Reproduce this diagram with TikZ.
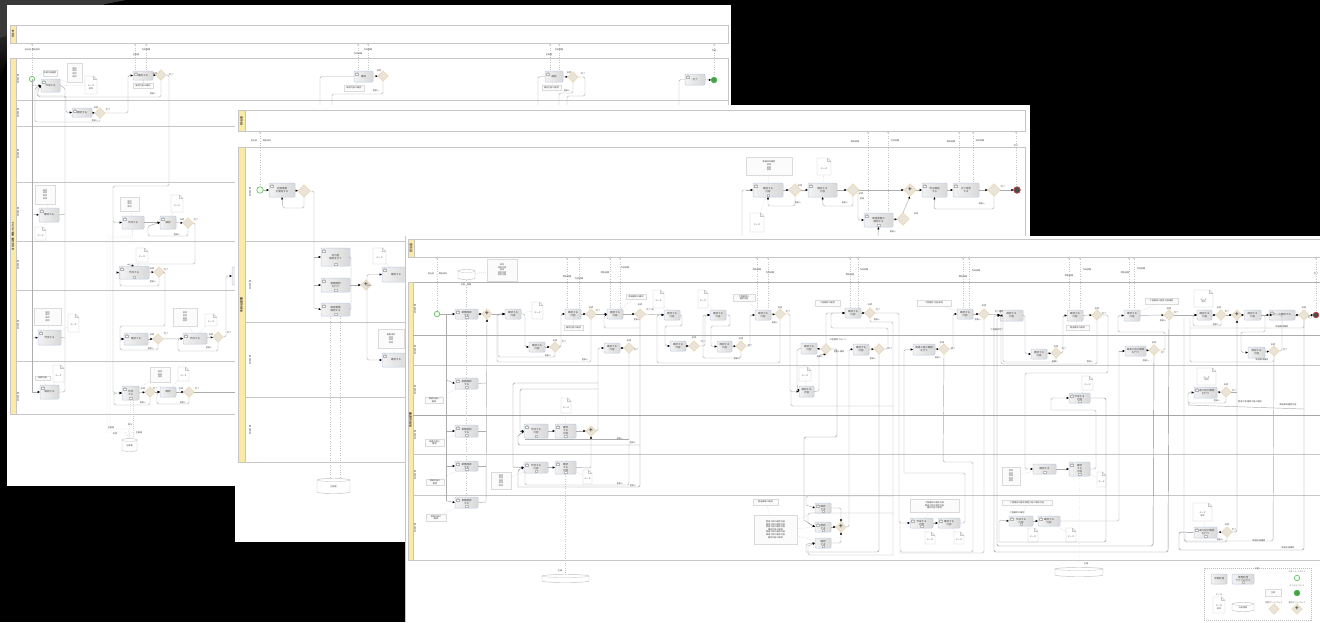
\documentclass[tikz,border=0pt]{standalone}
\usepackage{fontspec}
\setmainfont{Noto Sans CJK JP}
\usetikzlibrary{arrows.meta,shapes.geometric,shadows,positioning}
\definecolor{poolyel}{HTML}{FBE9A6}
\definecolor{edgec}{HTML}{C6C6C6}
\definecolor{flowc}{HTML}{ADADAD}
\definecolor{darkflow}{HTML}{8A8A8A}
\definecolor{taskb}{HTML}{BFCBE0}
\definecolor{gwf}{HTML}{E8E4DA}
\definecolor{gwb}{HTML}{EFD6AE}
\definecolor{txt}{HTML}{4A4A4A}
\newcommand{\tf}{\fontsize{2.5}{3}\selectfont}
\newcommand{\tfb}{\fontsize{2.1}{2.6}\selectfont}
\tikzset{
 x=1pt,y=-1pt,
 taskbox/.style={draw=taskb,line width=.5pt,rounded corners=1pt,left color=gray!10,right color=gray!30,
   inner sep=0pt,outer sep=0pt,align=center,font=\tf,text=txt},
 notebox/.style={draw=gray!28,line width=.4pt,fill=gray!3,inner sep=.5pt,outer sep=0pt,align=center,font=\tfb,text=txt},
 ghost/.style={inner sep=0pt,outer sep=0pt},
 gate/.style={diamond,draw=gwb,line width=.5pt,fill=gwf,minimum width=10.5pt,minimum height=10.5pt,inner sep=0pt,outer sep=0pt,font=\fontsize{6}{6}\selectfont\bfseries,text=black!70},
 biggate/.style={gate,minimum width=12.5pt,minimum height=12.5pt},
 startev/.style={circle,draw=green!40!gray,fill=green!8,line width=.5pt,minimum size=5.5pt,inner sep=0pt,outer sep=0pt},
 endgreen/.style={circle,draw=green!45!gray,fill=green!45!black!70,line width=.8pt,minimum size=5.5pt,inner sep=0pt,outer sep=0pt},
 endred/.style={circle,draw=red!50!gray,fill=black!70,line width=.8pt,minimum size=5.5pt,inner sep=0pt,outer sep=0pt},
 flow/.style={draw=flowc,line width=.45pt,rounded corners=1.5pt,-{Latex[length=2.3pt,width=2.3pt,black]}},
 flowd/.style={flow,draw=darkflow},
 plain/.style={draw=flowc,line width=.45pt,rounded corners=1.5pt},
 plaind/.style={plain,draw=darkflow},
 msg/.style={draw=gray!45,line width=.4pt,dotted},
 assoc/.style={draw=gray!35,line width=.3pt,dash pattern=on 1pt off 1pt},
 lab/.style={font=\tfb,text=txt,inner sep=0pt,outer sep=0pt},
 lanet/.style={font=\tfb,text=txt,rotate=90,inner sep=0pt,outer sep=0pt},
 poolt/.style={font=\tf,text=black,rotate=90,inner sep=0pt,outer sep=0pt},
 mk/.style={draw=gray!55,line width=.25pt,fill=white},
}
\newcounter{lbc}
\newcommand{\bx}[7]{\pgfmathsetmacro\bw{#5-#3}\pgfmathsetmacro\bh{#6-#4}\node[#1,minimum width=\bw pt,minimum height=\bh pt] (#2) at ({(#3+#5)/2},{(#4+#6)/2}) {#7};}
\newcommand{\tk}[6]{\bx{taskbox}{#1}{#2}{#3}{#4}{#5}{#6}}
\newcommand{\tku}[6]{\bx{taskbox}{#1}{#2}{#3}{#4}{#5}{#6}%
 \draw[draw=gray!60,line width=.25pt,fill=white] ({#2+1.2},{#3+4.2}) rectangle ({#2+4.2},{#3+2.6});
 \draw[draw=gray!60,line width=.25pt,fill=white] ({#2+2.7},{#3+1.7}) circle (.9pt);}
\newcommand{\mk}[1]{\draw[mk] ([shift={(-1.2,-3.2)}]#1.south) rectangle +(2.4,2.4);}
\newcommand{\nt}[6]{\bx{notebox}{#1}{#2}{#3}{#4}{#5}{#6}}
\newcommand{\dc}[6]{\bx{ghost}{#1}{#2}{#3}{#4}{#5}{}%
 \draw[draw=gray!45,line width=.4pt,fill=white] (#2,#3) -- ({#4-3.5},#3) -- (#4,{#3+3.5}) -- (#4,#5) -- (#2,#5) -- cycle;
 \draw[draw=gray!45,line width=.3pt] ({#4-3.5},#3) -- ({#4-3.5},{#3+3.5}) -- (#4,{#3+3.5});
 \node[lab,align=center,font=\tfb] (#1t) at ({(#2+#4)/2},{(#3+#5)/2+2}) {#6};}
\newcommand{\dbs}[6]{\bx{ghost}{#1}{#2}{#3}{#4}{#5}{}%
 \draw[draw=gray!50,line width=.45pt,fill=white] (#2,{#3+2}) .. controls ({#2+1},#3) and ({#4-1},#3) .. (#4,{#3+2}) -- (#4,{#5-2}) .. controls ({#4-1},#5) and ({#2+1},#5) .. (#2,{#5-2}) -- cycle;
 \draw[draw=gray!50,line width=.3pt] (#2,{#3+2}) .. controls ({#2+1},{#3+4}) and ({#4-1},{#3+4}) .. (#4,{#3+2});
 \node[lab] (#1t) at ({(#2+#4)/2},{(#3+#5)/2+1}) {#6};}
\newcommand{\gw}[3]{\node[gate] (#1) at (#2,#3) {};}
\newcommand{\gwbig}[3]{\node[biggate] (#1) at (#2,#3) {};}
\newcommand{\pg}[3]{\node[gate] (#1) at (#2,#3) {\raisebox{.3pt}{+}};}
\newcommand{\lb}[3]{\stepcounter{lbc}\node[lab] (lb\thelbc) at (#1,#2) {#3};}
\newcommand{\lnt}[3]{\stepcounter{lbc}\node[lanet] (lb\thelbc) at (#1,#2) {#3};}
\newcommand{\topm}[5]{% name, x, y of top, target-y, label
 \coordinate (#1u) at (#2,#3); \draw[msg] (#1u) -- (#2,#4);\draw[draw=gray!55,line width=.25pt,fill=white] (#2,{#3+1.2}) circle (.8pt);}
\begin{document}
\begin{tikzpicture}
\clip (0,0) rectangle (1320,622);
\fill[black] (0,0) rectangle (1320,622);
\shade[top color=gray!55!black,bottom color=black] (0,0) -- (125,0) -- (105,4) -- (60,25) -- (7,60) -- (0,78) -- cycle;
\fill[gray!45!black] (0,0) -- (125,0) -- (108,3) -- (60,14) -- (0,38) -- cycle;

%%%%%%%%%%%%%%%% SHEET 1
\node[fill=white,minimum width=724pt,minimum height=481pt,inner sep=0,outer sep=0] (sheetA) at (369,245.5) {};
\draw[edgec,line width=.5pt] (10,25) rectangle (728,43);
\fill[poolyel] (10,25) rectangle (16,43); \draw[edgec,line width=.4pt] (10,25) rectangle (16,43);
\node[poolt] (poA) at (13,34) {担当者};
\draw[edgec,line width=.5pt] (10,58.5) rectangle (728,414);
\fill[poolyel] (10,58.5) rectangle (16,414); \draw[edgec,line width=.4pt] (10,58.5) rectangle (16,414);
\node[poolt] (poB) at (13,236) {各担当部署 業務プロセス};
\foreach \yy in {100,126,182,241,290,361}{\draw[edgec,line width=.5pt] (16,\yy) -- (728,\yy);}
\lnt{18}{79}{担当部署}\lnt{18}{113}{担当部署}\lnt{18}{154}{担当部署}\lnt{18}{212}{担当部署}\lnt{18}{265}{担当部署}\lnt{18}{325}{担当部署}\lnt{18}{397}{担当部署}
% top messages
\topm{ma}{32}{43}{77}{}\topm{mb}{135}{43}{71}{}\topm{mc}{146}{43}{71}{}\topm{md}{358}{43}{71}{}\topm{me}{368}{43}{71}{}\topm{mf}{550}{43}{71}{}\topm{mg}{559}{43}{71}{}\topm{mh}{714}{43}{77}{}
\lb{28}{50}{担当者}\lb{36}{50}{開始条件}\lb{136}{54.5}{企画書}\lb{146}{50}{作成依頼}\lb{358}{54}{作成依頼}\lb{368}{50}{作成依頼}\lb{549}{54.5}{企画書}\lb{559}{50}{作成依頼}\lb{714}{51}{完成}
% nodes
\node[startev] (a0) at (32,79) {};
\tku{a1}{41}{79}{60}{92}{作成する}
\nt{an1}{43}{70}{57}{76}{依頼内容確認}
\nt{an2}{67}{63}{82}{82}{項目\\項目\\項目\\項目}
\dc{ad1}{85}{76}{97}{94}{データ\\項目}
\tku{a2}{72}{108}{92}{117}{確認する}\gw{g2}{100}{113}
\tku{a3}{133}{71}{153}{80}{確認する}\gw{g3}{161}{75}
\nt{an3}{133}{83}{153}{88}{確認内容の確認}
\tku{a4}{39}{208}{59}{222}{確認する}
\nt{an4}{35}{185}{55}{204}{項目\\項目\\項目\\項目}
\dc{ad4}{35}{227}{46}{240}{データ}
\tku{a5}{122}{216}{144}{229}{作成する}
\nt{an5}{120}{197}{139}{211}{項目\\項目\\項目}
\tku{a6}{160}{216}{176}{229}{確認}
\dc{ad6}{171}{195}{183}{212}{データ}
\gw{g6}{188}{223}
\tku{a7}{119}{266}{149}{279}{作成する}\gw{g7}{159}{272}
\dc{ad7}{136}{248}{148}{262}{データ}\mk{a7}
\tku{a8}{38}{330}{61}{345}{作成する}
\nt{an8}{34}{308}{61}{325}{項目\\項目\\項目\\項目}
\dc{ad8}{68}{314}{79}{332}{データ}
\tku{a9}{124}{333}{148}{345}{確認する}\gw{g9}{158}{339}
\tku{a10}{183}{333}{207}{344}{作成する}\gw{g10}{218}{337}
\nt{an10}{173}{308}{197}{326}{項目\\項目\\項目\\項目}
\dc{ad10}{205}{314}{217}{326}{データ}
\tku{a11}{40}{385}{59}{399}{確認する}
\nt{an11}{35}{376}{50}{380}{依頼内容}
\dc{ad11}{53}{365}{64}{382}{データ}
\tku{a12}{122}{386}{139}{400}{作成\\する}\gw{g12}{150}{392}\mk{a12}
\tk{a13}{160}{387}{176}{397}{確認}\gw{g13}{189}{392}
\nt{an13}{150}{367}{170}{382}{項目\\項目\\項目}
\dc{ad13}{178}{367}{189}{381}{データ}
\dbs{adb}{122}{438}{137}{452}{企画書}
\tk{a14}{232}{267}{245}{285}{}
\tku{a15}{354}{71}{373}{82}{確認}\gw{g15}{383}{76}
\nt{an15}{344}{85}{364}{91}{確認内容の確認}
\tku{a16}{545}{71}{563}{82}{確認}\gw{g16}{573}{77}
\nt{an16}{542}{85}{561}{90}{確認内容の確認}
\tku{a17}{685}{74}{705}{85}{完了}
\node[endgreen] (a18) at (714,80) {};
% connectors
\draw[flow] (a0.south) |- (a1.west);
\draw[flow] (37,86) |- (66,96) |- (a2.west);
\draw[flow] (a2) -- (g2);
\draw[flow] (g2.east) -- (128,113) |- (a3.west);
\draw[flow] (g2.south) -- (100,122) -| (35,88) -- (a1.west);
\draw[flow] (a3) -- (g3);
\draw[flow] (g3.south) -- (161,97) -| (38,90) -- (a1.west);
\draw[flow] (g3.east) -- (169,75) -- (169,186) -- (113,186) |- (a5.west);
\draw[flow] (113,222) |- (a12.west);
\draw[plain] (32,79) -- (32,392);
\draw[flow] (32,392) -- (a11.west);
\draw[flow] (32,214) -- (a4.west);\draw[plain] (a4.east) -- (65,214);
\draw[flow] (32,338) -- (a8.west);\draw[plain] (a8.east) -- (65,338);
\draw[plain] (a1.east) -- (65,88) -- (65,392) -- (a11.east);
\draw[flow] (a5) -- (a6);
\draw[flow] (a6) -- (g6);
\draw[flow] (g6.south) -- (188,236) -| (148,226) -- (a6.west);
\draw[flow] (g6.east) -- (195,223) -- (195,264) -- (126,264) -- (a7.north);
\draw[flow] (a7) -- (g7);
\draw[flow] (g7.south) -- (159,286) -- (120,286) |- (a7.west);
\draw[flow] (g7.east) -- (165,272) -- (165,326) -- (120,326) |- (a9.west);
\draw[flow] (a9) -- (g9);\draw[flow] (g9) -- (a10);\draw[flow] (a10) -- (g10);
\draw[flow] (g9.south) -- (158,350) -- (120,350) |- (a9.west);
\draw[flow] (g10.south) -- (218,351) -- (178,351) |- (a10.west);
\draw[flow] (g10.east) -- (226,337) |- (a14.west);
\draw[flow] (a12) -- (g12);\draw[flow] (g12) -- (a13);\draw[flow] (a13) -- (g13);
\draw[flow] (g12.south) -- (150,405) -- (114,405) |- (a12.west);
\draw[flow] (g13.south) -- (189,404) -- (157,404) |- (a13.west);
\draw[plain] (g13.east) -- (240,392);
\draw[flow] (a15) -- (g15);\draw[plain] (320,105) |- (a15.west);
\draw[plain] (g15.south) -- (383,94) -- (332,94) -- (332,105);
\draw[flow] (a16) -- (g16);\draw[plain] (538,105) |- (a16.west);
\draw[plain] (g16.south) -- (573,93) -- (559,93) -- (559,105);
\draw[plain] (g16.east) -- (585,77) -- (585,96) -- (567,96) -- (567,105);
\draw[plain] (679,105) |- (a17.west);
\draw[flow] (a17) -- (a18);
\draw[assoc] (a1.east) -- (ad1.west);\draw[assoc] (a1.north east) -- (an2.south west);\draw[assoc] (a0) -- (an1.west);
\draw[assoc] (a3) -- (an3);\draw[assoc] (a4) -- (an4);\draw[assoc] (a4) -- (ad4);
\draw[assoc] (a5) -- (an5);\draw[assoc] (a6) -- (ad6);\draw[assoc] (a7) -- (ad7);
\draw[assoc] (a8) -- (an8);\draw[assoc] (a8) -- (ad8);\draw[assoc] (a10) -- (an10);\draw[assoc] (a10) -- (ad10);
\draw[assoc] (a11) -- (an11);\draw[assoc] (a11) -- (ad11);\draw[assoc] (a12) -- (an13);\draw[assoc] (a13) -- (ad13);
\draw[assoc] (a15) -- (an15);\draw[assoc] (a16) -- (an16);
\draw[assoc] (a5.south) -- (132,236) -- (107,236) -- (107,432) -- (125,432) -- (adb.north);
\draw[assoc] (a5.south) -- (132,238) -- (110,238) -- (110,429) -- (128,429) -- (adb.north);
\draw[assoc] (a12.south) -- (adb.north);\draw[assoc] (133,400) -- (133,438);
\lb{111}{428}{企画書}\lb{115}{434}{承認}\lb{130}{425}{修正}\lb{139}{433}{企画書}
\lb{155}{74}{承認}\lb{171}{75}{完了}\lb{153}{94}{差戻し}\lb{96}{108}{承認}\lb{108}{110}{完了}\lb{95}{121}{差戻し}\lb{182}{220}{承認}\lb{196}{220}{完了}\lb{177}{235}{差戻し}\lb{152}{269}{承認}\lb{166}{270}{完了}\lb{153}{282}{差戻し}
\lb{152}{335}{承認}\lb{166}{334}{完了}\lb{151}{349}{差戻し}\lb{211}{335}{承認}\lb{229}{333}{完了}\lb{209}{348}{差戻し}
\lb{143}{389}{承認}\lb{155}{389}{完了}\lb{143}{403}{差戻し}\lb{181}{389}{承認}\lb{197}{389}{完了}\lb{183}{403}{差戻し}
\lb{379}{71}{承認}\lb{376}{91}{差戻し}\lb{569}{73}{承認}\lb{583}{74}{完了}\lb{567}{91}{差戻し}

%%%%%%%%%%%%%%%% SHEET 2
\node[fill=white,minimum width=795pt,minimum height=437pt,inner sep=0,outer sep=0] (sheetB) at (632.5,323.5) {};
\draw[edgec,line width=.5pt] (238,110) rectangle (1025,131);
\fill[poolyel] (238,110) rectangle (245,131); \draw[edgec,line width=.4pt] (238,110) rectangle (245,131);
\node[poolt,font=\fontsize{3}{3}\selectfont] (poC) at (241.5,120.5) {担当者};
\draw[edgec,line width=.5pt] (238,147) rectangle (1025,462);
\fill[poolyel] (238,147) rectangle (245,462); \draw[edgec,line width=.4pt] (238,147) rectangle (245,462);
\node[poolt,font=\fontsize{3}{3}\selectfont] (poD) at (241.5,305) {各担当部署};
\foreach \yy in {241.5,322.5,397}{\draw[edgec,line width=.5pt] (245,\yy) -- (1025,\yy);}
\lnt{250}{192}{担当部署}\lnt{250}{285}{担当部署}\lnt{250}{360}{担当部署}\lnt{250}{430}{担当部署}
\topm{na}{260}{131}{186}{}\topm{nb}{868}{131}{213}{}\topm{nc}{888}{131}{213}{}\topm{nd}{959}{131}{183}{}\topm{ne}{973}{131}{183}{}\topm{nf}{1016}{131}{186}{}
\lb{254}{140.5}{担当者}\lb{267}{140.5}{開始条件}\lb{855}{141.5}{関係部署}\lb{895}{141}{作成依頼}\lb{951}{142}{関係部署}\lb{980}{141}{承認依頼}\lb{1016}{145.5}{完了}
\node[startev,minimum size=6.5pt] (b0) at (260,190) {};
\tku{b1}{269}{183}{295}{197}{定期業務\\を開始する}\gwbig{bg1}{304}{191}
\tku{b2}{321}{248}{350}{266}{担当者\\確認を行う}\mk{b2}
\tku{b3}{321}{278}{350}{292}{業務確認\\を行う}\mk{b3}
\tku{b4}{321}{303}{350}{316}{関連業務\\確認する}\mk{b4}
\pg{bp}{366}{285}
\dc{bd5}{373}{248}{386}{264}{データ}
\tku{b5}{382}{267}{410}{282}{確認する}
\nt{bn6}{378}{329}{404}{348}{業務項目\\項目\\項目\\項目}
\tku{b6}{382}{353}{410}{367}{確認する}
\dbs{bdb}{317}{478}{350}{494}{企画書}
\tku{b7}{753}{183}{783}{197}{確認する\\内容}\mk{b7}
\nt{bn7}{746}{157}{792}{175}{業務項目確認\\項目\\項目\\項目}
\dc{bd7}{750}{213}{764}{232}{データ}
\gwbig{bg7}{795}{190}
\tku{b8}{808}{183}{837}{197}{確定する\\内容}
\dc{bd8}{817}{158}{831}{175}{データ}
\gwbig{bg8}{853}{190}
\node[gate,minimum width=12.5pt,minimum height=12.5pt] (bp2) at (910,190) {+};
\tku{b9}{922}{183}{947}{197}{修正確認\\する}
\tku{b10}{953}{183}{979}{197}{完了報告\\する}
\gwbig{bg10}{994}{190}
\node[endred,minimum size=6.5pt] (b11) at (1017,190) {};
\tku{b12}{864}{213}{893}{227}{関連業務の\\確認する}\mk{b12}
\gwbig{bg12}{903}{219}
\draw[flow] (b0) -- (b1);\draw[flow] (b1) -- (bg1);
\draw[flow] (bg1.south) -- (304,208) -- (283,208) -- (b1.south);
\draw[plain] (bg1.east) -- (314,191) -- (314,308);
\draw[flow] (314,257) -- (b2.west);\draw[flow] (314,285) -- (b3.west);\draw[flow] (314,308) -- (b4.west);
\draw[plain] (b2.east) -- (351,257) -- (351,310) -- (b4.east);
\draw[flow] (b3.east) -- (bp.west);
\draw[flow] (bp.east) -- (367,285) |- (b5.west);
\draw[flow] (367,285) |- (b6.west);
\draw[plain] (bp.east) -- (367,285);
\draw[msg] (330,316) -- (330,478);\draw[msg] (340,316) -- (340,478);
\draw[assoc] (b5) -- (bd5);\draw[assoc] (b6) -- (bn6);
\draw[plain] (742,236) |- (b7.west);\draw[flow] (746,190) -- (b7.west);
\draw[flow] (b7) -- (bg7);\draw[flow] (bg7.south) -- (795,206) -- (768,206) -- (b7.south);
\draw[flow] (bg7) -- (b8);\draw[flow] (b8) -- (bg8);\draw[flow] (bg8.south) -- (853,206) -- (823,206) -- (b8.south);
\draw[flow] (bg8) -- (bp2);
\draw[flow] (858,190) |- (b12.west);
\draw[flow] (b12) -- (bg12);\draw[flow] (bg12.north) -- (bp2.south);
\draw[flow] (bp2) -- (b9);\draw[flow] (b9) -- (b10);\draw[flow] (b10) -- (bg10);\draw[flow] (bg10) -- (b11);
\draw[flow] (bg10.south) -- (994,209) -- (934,209) -- (b9.south);
\draw[flow] (878,236) -- (b12.south);
\draw[assoc] (b7) -- (bn7);\draw[assoc] (b7) -- (bd7);\draw[assoc] (b8) -- (bd8);
\lb{800}{186}{承認}\lb{798}{203}{差戻し}\lb{861}{194}{承認}\lb{845}{203}{差戻し}\lb{862}{199}{差戻}\lb{916}{214}{承認}\lb{893}{232}{差戻し}\lb{1003}{187}{完了}\lb{982}{204}{差戻し}

%%%%%%%%%%%%%%%% SHEET 3
\node[fill=white,minimum width=915pt,minimum height=386pt,inner sep=0,outer sep=0] (sheetC) at (863.5,429) {};
\draw[edgec,line width=.45pt] (405.7,236) -- (405.7,622);
\draw[edgec,line width=.5pt] (408,239) rectangle (1325,257);
\fill[poolyel] (408,239) rectangle (414,257); \draw[edgec,line width=.4pt] (408,239) rectangle (414,257);
\node[poolt,font=\fontsize{3}{3}\selectfont] (poE) at (411,248) {担当者};
\draw[gray!60,line width=.45pt] (408,282) -- (1325,282);
\draw[edgec,line width=.5pt] (408,282) -- (408,560) -- (1325,560);
\fill[poolyel] (408,282) rectangle (413,560); \draw[edgec,line width=.4pt] (408,282) rectangle (413,560);
\node[poolt,font=\fontsize{3}{3}\selectfont] (poF) at (410.5,420) {各担当部署};
\draw[gray!65,line width=.45pt] (413,335) -- (1325,335);
\draw[edgec,line width=.5pt] (413,365) -- (1325,365);
\draw[gray!70,line width=.45pt] (413,415.5) -- (1325,415.5);
\draw[edgec,line width=.5pt] (413,454.5) -- (1325,454.5);
\draw[edgec,line width=.5pt] (413,495) -- (1325,495);
\lnt{415}{309}{担当部署}\lnt{415}{350}{担当部署}\lnt{415}{390}{担当部署}\lnt{415}{435}{担当部署}\lnt{415}{475}{担当部署}\lnt{415}{528}{担当部署}
\foreach \nm/\xa/\ya in {c/437/311,d/567/309,e/579/309,f/610/309,g/620/309,h/757/310,i/768/310,j/850/308,k/858/308,l/963/309,m/969/309,n/1069/310,o/1080/310,p/1129/310,q/1134/310,r/1316/312}{\topm{\nm m}{\xa}{257}{\ya}{}}
\lb{431}{274}{担当者}\lb{443}{274}{開始条件}\lb{567}{277}{関係部署}\lb{579}{279}{作成依頼}\lb{605}{273}{関係部署}\lb{625}{268}{作成依頼}\lb{757}{270}{関係部署}\lb{770}{273}{作成依頼}\lb{850}{275}{関係部署}\lb{864}{270}{作成依頼}\lb{963}{277}{関係部署}\lb{976}{271}{作成依頼}\lb{1069}{276}{関係部署}\lb{1087}{270}{作成依頼}\lb{1125}{273}{関係部署}\lb{1141}{269}{作成依頼}\lb{1316}{274}{完了}
\node[startev] (c0) at (437,314) {};
\tku{c1}{455}{309}{478}{319}{業務確認\\する}\mk{c1}
\pg{cp1}{487}{314}
\tk{c2}{505}{309}{521}{319}{確認する\\内容}
\dc{cd2}{532}{302}{543}{319}{データ}
\tk{c3}{529}{342}{545}{352}{確認する\\内容}\gw{cg3}{555}{347}
\tk{c4}{565}{309}{581}{319}{確認する\\内容}\gw{cg4}{591}{314}
\nt{cn4}{564}{325}{583}{330}{確認内容の確認}
\dbs{cdb}{458}{269}{475}{280}{}
\nt{cnb}{487}{259}{517}{281}{項目\\項目内容\\項目\\項目内容\\項目内容}
\lb{466}{285}{企画・業務}
\tk{c5}{607}{309}{623}{319}{確認する\\内容}\gw{cg5}{640}{314}
\nt{cn5}{626}{294}{646}{299}{関連確認の確認}
\tk{c6}{604}{343}{620}{353}{確認する\\内容}\gw{cg6}{629}{348}
\tk{c7}{664}{310}{680}{320}{確認する\\内容}
\dc{cd7}{653}{290}{664}{308}{データ}
\tk{c8}{670}{341}{686}{351}{確認する\\内容}\gw{cg8}{694}{346}
\dc{cd8}{698}{290}{708}{308}{データ}
\tk{c9}{710}{310}{726}{320}{確認する\\内容}
\tk{c10}{717}{341}{732}{352}{確認する\\内容}\gw{cg10}{741}{346}
\tk{c11}{755}{310}{771}{320}{確認する\\内容}\gw{cg11}{780}{314}
\nt{cn11}{733}{294}{755}{301}{工程確認の\\確認内容}
\tk{c12}{801}{343}{817}{354}{確認する\\内容}\gw{cg12}{826}{349}
\dc{cd13}{799}{367}{811}{381}{データ}
\tk{c13}{799}{386}{814}{397}{確認する\\内容}
\tk{c14}{845}{308}{861}{318}{確認する\\内容}\gw{cg14}{870}{313}
\nt{cn14}{815}{300}{840}{306}{工程確認の確認}
\tk{c15}{853}{344}{869}{355}{確認する\\内容}\gw{cg15}{879}{349}
\tk{c16}{913}{344}{935}{355}{関連工程の確認\\を行う}\gw{cg16}{944}{349}
\tk{c17}{957}{309}{973}{319}{確認する\\内容}\gw{cg17}{984}{314}
\nt{cn17}{917}{300}{951}{306}{工程確認 内容 確認}
\tk{c18}{1000}{310}{1023}{321}{確認する\\内容}
\tk{c19}{1031}{349}{1047}{359}{確認する\\内容}\gw{cg19}{1056}{353}
\tk{c20}{1067}{310}{1083}{321}{確認する\\内容}\gw{cg20}{1097}{315}
\nt{cn20}{1066}{325}{1089}{330}{関連事項の確認}
\tk{c21}{1124}{310}{1140}{321}{確認する\\内容}\gw{cg21}{1169}{315}
\nt{cn21}{1145}{298}{1178}{304}{工程確認の調整 内容確認}
\tk{c22}{1125}{346}{1146}{356}{関連工程の確認\\を行う}\gw{cg22}{1154}{350}
\tk{c23}{1197}{310}{1212}{320}{確認する\\内容}
\dc{cd23}{1194}{290}{1213}{307}{データ\\項目}
\gw{cg23}{1221}{315}\pg{cp23}{1237}{315}
\tk{c24}{1244}{310}{1261}{320}{確認する\\内容}
\tku{c25}{1269}{310}{1295}{320}{データ確認する}\gw{cg25}{1304}{315}
\node[endred] (c26) at (1316,315) {};
\tk{c27}{1248}{347}{1265}{358}{確認する\\内容}\gw{cg27}{1274}{351}
\tku{c28}{1194}{387}{1217}{398}{関連工程の確認\\を行う}
\dc{cd28}{1197}{368}{1216}{385}{データ\\項目}
\gw{cg28}{1226}{392}
\dc{cd29}{1082}{376}{1093}{390}{データ}
\tku{c29}{1069}{393}{1090}{403}{作成する\\内容}\mk{c29}
\tku{c31}{455}{378}{478}{389}{業務確認\\する}\mk{c31}
\nt{cn31}{425}{397}{443}{403}{関連内容の\\確認}
\tku{c32}{455}{425}{478}{437}{業務確認\\する}\mk{c32}
\nt{cn32}{425}{439}{444}{446}{関連内容の\\確認}
\tku{c33}{455}{461}{478}{471}{業務確認\\する}\mk{c33}
\nt{cn33}{426}{479}{444}{485}{関連内容の\\確認}
\tku{c34}{455}{497}{478}{508}{業務確認\\する}\mk{c34}
\nt{cn34}{426}{514}{446}{521}{関連内容の\\確認}
\tku{c35}{524}{424}{548}{438}{作成する\\内容}\mk{c35}
\tku{c36}{555}{424}{576}{438}{確認\\する\\内容}\mk{c36}
\pg{cp36}{591}{431}
\dc{cd36}{561}{398}{571}{413}{データ}
\tku{c37}{524}{462}{548}{473}{作成する\\内容}\mk{c37}
\tku{c38}{555}{461}{576}{474}{確認\\する\\内容}\mk{c38}
\dc{cd38}{583}{470}{592}{484}{データ}
\nt{cn37}{491}{472}{511}{489}{項目\\項目\\項目\\項目\\項目}
\dbs{cdb2}{542}{574}{589}{583}{}
\lb{560}{571}{企画}
\nt{cn40}{753}{499}{778}{505}{関連業務の確認}
\nt{cn41}{754}{515}{797}{544}{関連工程の確認内容\\関連工程の確認内容\\関連工程の確認内容\\確認内容の確認\\関連工程の確認内容\\関連工程の確認内容\\確認内容の確認}
\tku{c42}{815}{503}{831}{513}{確認\\する}\mk{c42}
\tku{c43}{815}{522}{831}{532}{確認\\する}\mk{c43}
\tk{c44}{815}{538}{831}{548}{確認\\する}\mk{c44}
\pg{cp44}{841}{527}
\nt{cn45}{910}{499}{959}{512}{工程確認の確認内容\\関連工程の確認内容\\確認内容の確認}
\tku{c46}{910}{518}{933}{528}{作成する\\内容}\mk{c46}
\tku{c47}{938}{518}{960}{528}{確認する\\内容}
\dc{cd46}{925}{532}{935}{544}{データ}
\dc{cd47}{954}{532}{964}{544}{データ}
\tk{c48}{1033}{464}{1056}{474}{確認する}\mk{c48}
\tku{c49}{1069}{462}{1090}{476}{確認\\する\\内容}\mk{c49}
\dc{cd49}{1097}{472}{1106}{487}{データ}
\nt{cn49}{1002}{467}{1020}{485}{項目\\項目\\項目\\項目\\項目}
\nt{cn50}{1002}{500}{1052}{505}{工程確認の確認 調整内容の確認内容}
\lb{1017}{513}{工程確認の確認}
\tku{c51}{1009}{516}{1033}{526}{作成する\\内容}\mk{c51}
\tku{c52}{1038}{516}{1060}{526}{確認する\\内容}
\dc{cd51}{1028}{528}{1038}{542}{データ}
\dc{cd52}{1066}{528}{1076}{542}{データ}
\dbs{cdb3}{1055}{567}{1103}{577}{}
\lb{1086}{564}{企画}
\tku{c53}{1194}{527}{1217}{538}{関連工程の確認\\を行う}\mk{c53}
\gw{cg53}{1227}{532}
\dc{cd53}{1193}{503}{1212}{521}{データ\\項目}
% Legend
\node[draw=gray!50,line width=.45pt,dash pattern=on 1pt off 1pt,minimum width=107pt,minimum height=52pt,inner sep=0,fill=white] (leg) at (1257.5,594) {};
\lb{1257}{569}{凡例}
\tk{lg1}{1211}{574}{1227}{584}{手動処理}
\tk{lg2}{1232}{574}{1254}{584}{業務処理\\サブプロセス}\mk{lg2}
\lb{1297}{572}{スタートイベント}
\node[startev] (lg3) at (1297,578) {};
\lb{1297}{586}{エンドイベント}
\node[endgreen] (lg4) at (1297,593) {};
\nt{lg5}{1265}{589}{1281}{596}{注釈}
\lb{1219}{595}{データ}
\dc{lg6}{1213}{597}{1225}{613}{データ\\項目}
\dbs{lg7}{1232}{602}{1254}{612}{外部情報}
\lb{1274}{603}{排他ゲートウェイ}
\gw{lg8}{1274}{609}
\lb{1297}{603}{並列ゲートウェイ}
\pg{lg9}{1297}{609}
% connectors, first row
\draw[flow] (c0) -- (c1);\draw[flow] (c1) -- (cp1);\draw[flow] (cp1) -- (c2);
\draw[plain] (446.7,314) -- (446.7,501);
\draw[flow] (446.7,380) -- (c31.west);\draw[flow] (446.7,431) -- (c32.west);\draw[flow] (446.7,466) -- (c33.west);\draw[flow] (446.7,501) -- (c34.west);
\draw[plain] (c31.east) -- (486,383);\draw[plain] (c32.east) -- (486,431);\draw[plain] (c33.east) -- (486,466);\draw[plain] (c34.east) -- (486,502);
\draw[flow] (486,502) -- (cp1.south);
\draw[msg] (cdb.south) -- (c1.north);\draw[msg] (c1.south) -- (c31.north);\draw[msg] (c31.south) -- (c32.north);\draw[msg] (c32.south) -- (c33.north);\draw[msg] (c33.south) -- (c34.north);
\draw[flow] (c2.east) -- (525,314) |- (c3.west);
\draw[flow] (c3) -- (cg3);
\draw[flow] (cg3.east) -- (561,347) |- (c4.west);
\draw[flow] (cg3.south) -- (555,357) -- (498,357) |- (c2.west);
\draw[flow] (c4) -- (cg4);
\draw[flow] (cg4.south) -- (591,362) -- (497,362) |- (c2.west);
\draw[flow] (cg4.east) -- (c5.west);
\draw[flow] (c5) -- (cg5);
\draw[plaind] (cg5.south) -- (640,487) -- (518,487);
\draw[flowd] (518,487) -- (518,470) -- (c37.west);
\draw[plaind] (640,445) -- (518,445) -- (518,436);
\draw[flowd] (518,436) -- (c35.west);
\draw[flow] (640,328) -- (604,328) -- (604,316) -- (c5.west);
\draw[flow] (cg5) -- (c7);
\draw[flow] (cp36.east) -- (598,431) -- (598,348) -- (c6.west);
\draw[plaind] (598,383) -- (513,383) -- (513,467);
\draw[flowd] (513,467) -- (c37.west);
\draw[plaind] (598,389) -- (520,389) -- (520,431);
\draw[flowd] (520,431) -- (c35.west);
\draw[flow] (c35) -- (c36);\draw[flow] (c36) -- (cp36);
\draw[flow] (c37) -- (c38);\draw[flow] (c38.east) -- (591,468) -- (cp36.south);
\draw[flow] (c6) -- (cg6);
\draw[plain] (cg6.south) -- (629,485) -- (525,485) -- (525,470);
\draw[plain] (629,439) -- (525,439);
\lb{620}{439}{差戻し}\lb{620}{484}{差戻し}\lb{633}{443}{差戻し}\lb{633}{486}{差戻し}
\draw[flow] (c7.east) -- (682,315) -- (682,326) -- (665,326) |- (c8.west);
\draw[flow] (c8) -- (cg8);
\draw[flow] (cg8.east) -- (705,346) |- (c9.west);
\draw[flow] (c9.east) -- (730,315) -- (730,326) -- (711,326) |- (c10.west);
\draw[flow] (c10) -- (cg10);
\draw[flow] (cg10.east) -- (750,346) |- (c11.west);
\draw[flow] (cg10.south) -- (741,358) -- (703,358) |- (c9.west);
\draw[flow] (c11) -- (cg11);
\draw[flow] (cg11.south) -- (780,363) -- (657,363) |- (c7.west);
\draw[flow] (cg11.east) -- (790,314) |- (c13.west);
\draw[flow] (c13.east) -- (819,391) -- (819,355) -- (cg12.south);
\draw[flow] (cg12) -- (c12);
\draw[flow] (c12.west) -- (797,349) -- (797,386) -- (c13.west);
\draw[flow] (cg12.north) -- (826,313) -- (c14.west);
\draw[flow] (c14) -- (cg14);
\draw[plain] (cg14.south) -- (870,322) -- (893,322) -- (893,555);
\draw[flow] (cg14.east) -- (899,313) -- (899,523) -- (c46.west);
\draw[flow] (cg15.east) -- (888,349) -- (888,328) -- (831,328) |- (c14.west);
\draw[flow] (c15) -- (cg15);
\draw[plaind] (cg15.south) -- (879,552) -- (806,552);
\draw[flow] (806,552) -- (806,544) -- (c44.west);
\draw[plain] (791,391) -- (791,406) -- (893,406);
\draw[plaind] (cg12.east) -- (837,349) -- (837,437) -- (804,437) -- (804,520);
\draw[flow] (804,520) -- (c43.west);
\draw[plain] (893,496) -- (806,496) -- (806,505);
\draw[flow] (806,505) -- (c42.west);
\draw[plain] (893,513) -- (808,513) -- (808,523);
\draw[flow] (808,523) -- (c43.west);
\draw[plain] (893,555) -- (808,555) -- (808,546);
\draw[flow] (808,546) -- (c44.west);
\draw[flow] (c42.east) -- (841,508) -- (cp44.north);
\draw[flow] (c43) -- (cp44);
\draw[flow] (c44.east) -- (841,543) -- (cp44.south);
\draw[flow] (cp44.east) -- (849,527) -- (849,349) -- (c15.west);
\draw[assoc] (cn40) -- (cn41);\draw[assoc] (cn41) -- (c42);\draw[assoc] (cn41) -- (c43);\draw[assoc] (cn41) -- (c44);
\draw[flow] (c46) -- (c47);
\draw[plain] (c47.east) -- (965,523) -- (965,473) -- (904,473);
\draw[flow] (904,473) |- (c16.west);
\draw[flow] (c16) -- (cg16);
\draw[flow] (cg16.east) -- (953,349) |- (c17.west);
\draw[plain] (cg16.south) -- (943,462) -- (973,462) -- (973,552) -- (900,552) -- (900,523);
\draw[flow] (c17) -- (cg17);
\draw[plain] (cg17.south) -- (984,553) -- (899,553);
\draw[flow] (cg17) -- (c18);
\draw[flow] (c18.east) -- (1025,315) |- (c19.west);
\draw[flow] (c19) -- (cg19);
\draw[flow] (cg19.east) -- (1063,353) |- (c20.west);
\draw[flow] (c20) -- (cg20);
\draw[flow] (cg20.east) -- (1108,315) -- (1108,373) -- (1025,373) |- (c48.west);
\draw[flow] (cg20.south) -- (1097,364) -- (1001,364) |- (c18.west);
\draw[flow] (cg19.south) -- (1056,362) -- (1003,362) |- (c18.west);
\draw[flow] (c48) -- (c49);
\draw[plain] (c49.east) -- (1096,469) -- (1096,410) -- (1051,410);
\draw[flow] (1051,410) -- (1051,398) -- (c29.west);
\draw[plaind] (c29.east) -- (1106,398) -- (1106,542) -- (999,542);
\draw[flow] (999,542) -- (999,520) -- (c51.west);
\draw[flow] (c51) -- (c52);
\draw[plain] (c52.east) -- (1119,521) -- (1119,351);
\draw[flow] (1119,351) -- (c22.west);
\draw[flow] (c22) -- (cg22);
\draw[flow] (cg22.east) -- (1165,350) -- (1165,332) -- (1118,332) |- (c21.west);
\draw[plaind] (cg22.south) -- (1153,546) -- (997,546) -- (997,318);
\draw[plaind] (cg21.south) -- (1168,552) -- (994,552) -- (994,316);
\draw[flow] (994,316) -- (c18.west);
\draw[flow] (c21) -- (cg21);
\draw[flow] (cg21) -- (c23);
\draw[flow] (c23) -- (cg23);\draw[flow] (cg23) -- (cp23);\draw[flow] (cp23) -- (c24);\draw[flow] (c24) -- (c25);\draw[flow] (c25) -- (cg25);\draw[flow] (cg25) -- (c26);
\draw[flow] (cg23.south) -- (1221,326) -- (1193,326) |- (c23.west);
\draw[flow] (c24.east) -- (1265,315) -- (1265,332) -- (1241,332) |- (c27.west);
\draw[flow] (c27) -- (cg27);
\draw[flow] (cg27.east) -- (1282,351) |- (c25.west);
\draw[plain] (cg27.south) -- (1273,541) -- (1184,541) -- (1184,318);
\draw[plaind] (cg25.south) -- (1304,550) -- (1179,550) -- (1179,532) -- (c53.west);
\draw[plain] (cg27.south) -- (1274,362) -- (1190,362) -- (1190,318);
\draw[plain] (cg25.south) -- (1304,328) -- (1190,328);
\draw[flowd] (cg53.east) -- (1237,532) -- (cp23.south);
\draw[flow] (c53) -- (cg53);
\draw[flow] (c28) -- (cg28);\draw[plain] (cg28.east) -- (1237,392);
\draw[flow] (cg28.south) -- (1226,403) -- (1188,403) |- (c28.west);
\draw[plain] (1188,403) -- (1188,405) -- (1304,409);
\draw[plain] (cg53.south) -- (1227,542) -- (1185,542) -- (1185,534);
% associations
\draw[assoc] (c2) -- (cd2);\draw[assoc] (c4) -- (cn4);\draw[assoc] (c5) -- (cn5);\draw[assoc] (c7) -- (cd7);\draw[assoc] (c9) -- (cd8);\draw[assoc] (c11) -- (cn11);\draw[assoc] (c13) -- (cd13);\draw[assoc] (c14) -- (cn14);\draw[assoc] (c17) -- (cn17);\draw[assoc] (c20) -- (cn20);\draw[assoc] (c21) -- (cn21);\draw[assoc] (c23) -- (cd23);\draw[assoc] (c28) -- (cd28);\draw[assoc] (c29) -- (cd29);
\draw[assoc] (c31) -- (cn31);\draw[assoc] (c32) -- (cn32);\draw[assoc] (c33) -- (cn33);\draw[assoc] (c34) -- (cn34);\draw[assoc] (c36) -- (cd36);\draw[assoc] (c38) -- (cd38);\draw[assoc] (c37) -- (cn37);
\draw[assoc] (c46) -- (cn45);\draw[assoc] (c46) -- (cd46);\draw[assoc] (c47) -- (cd47);\draw[assoc] (c48) -- (cn49);\draw[assoc] (c49) -- (cd49);\draw[assoc] (c51) -- (cn50);\draw[assoc] (c51) -- (cd51);\draw[assoc] (c52) -- (cd52);\draw[assoc] (c53) -- (cd53);
\draw[assoc] (cdb) -- (cnb);
\draw[msg] (c38.south) -- (cdb2.north);\draw[msg] (c49.south) -- (cdb3.north);
% labels
\lb{555}{341}{承認}\lb{564}{342}{完了}\lb{548}{356}{差戻し}\lb{591}{308}{承認}\lb{598}{311}{完了}\lb{585}{360}{差戻し}
\lb{640}{305}{承認}\lb{650}{310}{完 了 後}\lb{637}{320}{差戻し}\lb{629}{341}{承認}\lb{636}{350}{完了}\lb{694}{338}{承認}\lb{703}{342}{完了}\lb{741}{339}{承認}\lb{750}{346}{完了}\lb{737}{359}{差戻し}
\lb{780}{308}{承認}\lb{788}{312}{完了}\lb{775}{323}{差戻し}\lb{870}{305}{承認}\lb{878}{310}{完了}\lb{877}{320}{差戻し}
\lb{838}{340}{工程確認すること}\lb{839}{352}{差戻し確認}\lb{820}{357}{差戻し}\lb{890}{349}{完了}\lb{873}{359}{差戻し}\lb{942}{343}{承認}\lb{953}{349}{完了}\lb{938}{358}{差戻し}
\lb{984}{306}{承認}\lb{978}{320}{差戻し}\lb{999}{312}{完了確認}\lb{997}{330}{工程確認完了}\lb{1097}{309}{承認}\lb{1104}{314}{完了}\lb{1056}{347}{承認}\lb{1064}{349}{完了}\lb{1055}{362}{差戻し}\lb{1090}{362}{差戻し}
\lb{1154}{343}{承認}\lb{1163}{353}{完了}\lb{1146}{361}{差戻し}\lb{1169}{309}{承認}\lb{1176}{313}{完了}\lb{1163}{321}{差戻し}
\lb{1219}{308}{承認}\lb{1227}{312}{完了}\lb{1216}{325}{差戻し}\lb{1304}{308}{承認}\lb{1310}{318}{完了}\lb{1282}{327}{関連事項確認}\lb{1273}{345}{承認}\lb{1285}{350}{完了}\lb{1262}{360}{関連事項確認}
\lb{1226}{385}{承認}\lb{1234}{391}{完了}\lb{1217}{401}{差戻し}\lb{1250}{402}{関連工程 確認内容の確認}\lb{1288}{405}{関連事項確認内容}
\lb{1227}{525}{承認}\lb{1234}{530}{完了}\lb{1220}{540}{差戻し}\lb{1259}{541}{関連内容確認}\lb{1288}{548}{関連内容確認}
\end{tikzpicture}
\end{document}
